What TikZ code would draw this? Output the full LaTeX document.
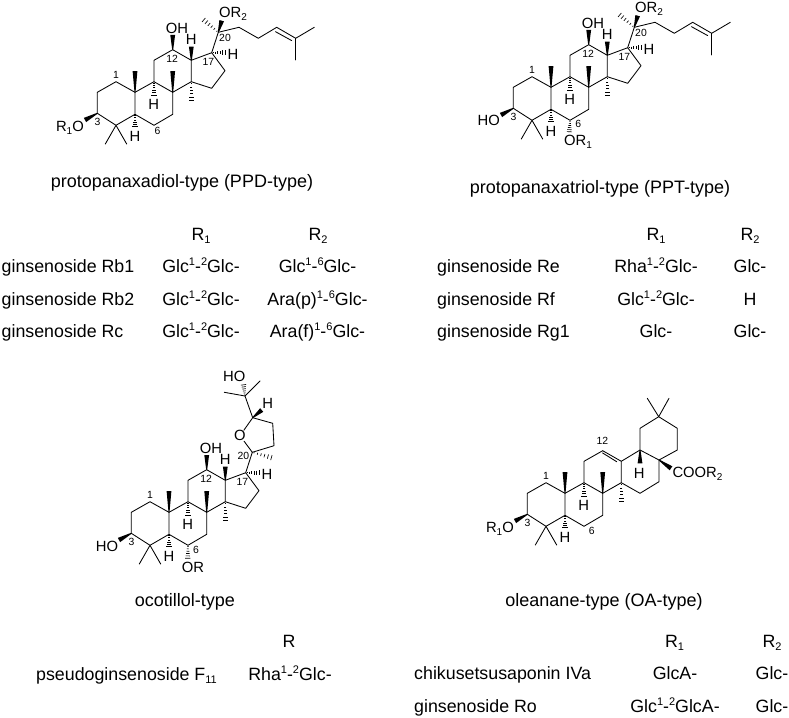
\documentclass[tikz,border=0pt]{standalone}
\usepackage{fontspec}
\setmainfont{Liberation Sans}
\usetikzlibrary{calc}

\tikzset{
  bond/.style={line width=.85pt,line join=round,line cap=round},
  atomlbl/.style={inner sep=0pt,font=\fontsize{14.8}{16}\selectfont},
  numlbl/.style={inner sep=0pt,font=\fontsize{10.4}{11}\selectfont},
  caplbl/.style={inner sep=0pt,anchor=base,font=\fontsize{18}{20}\selectfont},
  collbl/.style={inner sep=0pt,anchor=base,font=\fontsize{17.8}{20}\selectfont},
  rowlbl/.style={inner sep=0pt,anchor=base west,font=\fontsize{17.8}{20}\selectfont}
}
\newcommand{\up}[1]{\raisebox{6.6pt}{\fontsize{11}{11}\selectfont #1}}
\newcommand{\dn}[1]{\raisebox{-3.6pt}{\fontsize{11}{11}\selectfont #1}}
\newcommand{\adn}[1]{\raisebox{-3pt}{\fontsize{10}{10}\selectfont #1}}
\newcommand{\wedgebd}[2]{\fill ($(#1)!.5pt!90:(#2)$) -- ($(#1)!.5pt!-90:(#2)$) -- ($(#2)!2.4pt!90:(#1)$) -- ($(#2)!2.4pt!-90:(#1)$) -- cycle;}
\newcommand{\hashbd}[2]{%
  \foreach \pos/\hw in {.08/.6pt,.24/1pt,.40/1.4pt,.56/1.8pt,.72/2.2pt,.88/2.6pt} {
    \coordinate (hp) at ($(#1)!\pos!(#2)$);
    \draw[line width=.65pt] ($(hp)!\hw!90:(#2)$) -- ($(hp)!\hw!-90:(#2)$);
  }}
% rings A, B, C
\newcommand{\ringcore}{%
  \coordinate (C1) at (116,81.7);\coordinate (C2) at (97.3,92.3);\coordinate (C3) at (97.3,113.3);\coordinate (C4) at (116,125.3);\coordinate (C5) at (135,114.3);\coordinate (C6) at (154,125.3);\coordinate (C7) at (172.7,114.3);\coordinate (C8) at (172.7,92.3);\coordinate (C9) at (154,81.7);\coordinate (C10) at (135,92.3);\coordinate (C11) at (154,60.3);\coordinate (C12) at (172.7,49.7);\coordinate (C13) at (191.3,60.3);\coordinate (C14) at (191.3,81.7);
  \coordinate (Me4a) at (105.3,144);\coordinate (Me4b) at (126.7,144);\coordinate (Me8) at (172.7,71);\coordinate (Me10) at (135,71);\coordinate (Me14) at (191.3,103.3);\coordinate (O3) at (85,120);\coordinate (H5) at (135,128.3);\coordinate (H9) at (154,96.7);
  \draw[bond] (C10) -- (C1) -- (C2) -- (C3) -- (C4) -- (C5) -- (C10) -- (C9) -- (C8) -- (C7) -- (C6) -- (C5);
  \draw[bond] (C9) -- (C11) -- (C12);
  \draw[bond] (C8) -- (C14) -- (C13);
  \draw[bond] (Me4a) -- (C4) -- (Me4b);
  \foreach \from/\to in {C3/O3, C8/Me8, C10/Me10} { \wedgebd{\from}{\to} }
  \foreach \from/\to in {C5/H5, C9/H9, C14/Me14} { \hashbd{\from}{\to} }
  \node[atomlbl] (lblH5) at (135,136.7) {H};
  \node[atomlbl] (lblH9) at (153.7,104.3) {H};
  \node[numlbl] (no1) at (116,74.5) {1};
  \node[numlbl] (no3) at (97.5,122) {3};
}
% ring D and the C12 hydroxyl of the dammaranes
\newcommand{\dammarcore}{%
  \coordinate (C15) at (211.7,88.3);\coordinate (C16) at (225,70.7);\coordinate (C17) at (211.7,52.7);\coordinate (C20) at (218.3,32.3);\coordinate (O12) at (172.7,35);\coordinate (H13) at (191.3,46.7);\coordinate (H17) at (226.7,52.7);
  \draw[bond] (C12) -- (C13) -- (C17) -- (C16) -- (C15) -- (C14);
  \draw[bond] (C17) -- (C20);
  \foreach \from/\to in {C12/O12, C13/H13} { \wedgebd{\from}{\to} }
  \hashbd{C17}{H17}
  \node[atomlbl,anchor=base] (lblOH) at (177,33.5) {OH};
  \node[atomlbl] (lblH13) at (191.3,39.3) {H};
  \node[atomlbl] (lblH17) at (233,54.3) {H};
  \node[numlbl] (no12) at (172.2,59.3) {12};
  \node[numlbl] (no17) at (208.3,61.5) {17};
}
% side chain of PPD and PPT
\newcommand{\sidechain}{%
  \coordinate (C21) at (201.7,18.3);\coordinate (C22) at (239,27.3);\coordinate (C23) at (258.3,38.3);\coordinate (C24) at (276.7,27.3);\coordinate (C25) at (295.7,38.3);\coordinate (C26) at (314.3,27.3);\coordinate (C27) at (295.7,60);\coordinate (O20) at (221.7,20.7);\coordinate (D24) at (275.5,31.7);\coordinate (D25) at (291.7,40.6);
  \draw[bond] (C20) -- (C22) -- (C23) -- (C24) -- (C25) -- (C26);
  \draw[bond] (C25) -- (C27);
  \draw[bond] (D24) -- (D25);
  \wedgebd{C20}{O20}
  \hashbd{C20}{C21}
  \node[atomlbl,anchor=base west] (lblOR2) at (219,17.5) {OR\adn{2}};
  \node[numlbl] (no20) at (225,38.3) {20};
}

\begin{document}
\begin{tikzpicture}[x=1pt,y=-1pt]
  \useasboundingbox (0,0) rectangle (789,717);

  % protopanaxadiol
  \begin{scope}[name prefix=ppd-]
    \ringcore \dammarcore \sidechain
    \node[atomlbl,anchor=base east] (lblR1O) at (84,131) {R\adn{1}O};
    \node[numlbl] (no6) at (157.5,131) {6};
  \end{scope}

  % protopanaxatriol
  \begin{scope}[shift={(416,-5)},name prefix=ppt-]
    \ringcore \dammarcore \sidechain
    \coordinate (O6) at (153.3,138.3);
    \hashbd{C6}{O6}
    \node[atomlbl,anchor=base east] (lblHO) at (84,130) {HO};
    \node[atomlbl,anchor=base west] (lblOR1) at (148,150.7) {OR\adn{1}};
    \node[numlbl] (no6) at (162.3,129.3) {6};
  \end{scope}

  % ocotillol
  \begin{scope}[shift={(34,420)},name prefix=oco-]
    \ringcore \dammarcore
    \coordinate (O6) at (153.7,140);\coordinate (C21) at (240,38.3);\coordinate (C22) at (240,25.7);\coordinate (C23) at (238.7,3.3);\coordinate (C24) at (218.7,-2.3);\coordinate (H24) at (227.7,-10);\coordinate (C25) at (211,-24);\coordinate (C26) at (226,-39);\coordinate (C27) at (190.3,-27.7);\coordinate (O25) at (209.3,-36.7);
    \node[atomlbl] (lblO) at (206,15.7) {O};
    \draw[bond] (C20) -- (lblO) -- (C24);
    \draw[bond] (C20) -- (C22) -- (C23) -- (C24) -- (C25) -- (C26);
    \draw[bond] (C25) -- (C27);
    \wedgebd{C24}{H24}
    \hashbd{C6}{O6}
    \hashbd{C20}{C21}
    \hashbd{C25}{O25}
    \node[atomlbl] (lblH24) at (233.7,-16.7) {H};
    \node[atomlbl,anchor=base] (lblHO25) at (200.3,-38.3) {HO};
    \node[atomlbl,anchor=base east] (lblHO) at (84.3,131) {HO};
    \node[atomlbl,anchor=base west] (lblOR) at (147.7,152.7) {OR};
    \node[numlbl] (no6) at (162,130.3) {6};
    \node[numlbl] (no20) at (209.3,35.7) {20};
  \end{scope}

  % oleanane
  \begin{scope}[shift={(430,401)},name prefix=oa-]
    \ringcore
    \coordinate (C15) at (210,92.3);\coordinate (C16) at (229,80.7);\coordinate (C17) at (229,59);\coordinate (C18) at (210,49);\coordinate (C19) at (210,27.3);\coordinate (C20) at (228.7,15.7);\coordinate (C21) at (247.3,27.3);\coordinate (C22) at (247.3,49);\coordinate (Me20a) at (217.3,-2.7);\coordinate (Me20b) at (239,-2.7);\coordinate (H18) at (210,62.3);\coordinate (C28) at (241,67.3);\coordinate (D12) at (172.5,51.9);\coordinate (D13) at (186.7,60.7);
    \draw[bond] (C12) -- (C13) -- (C18) -- (C17) -- (C16) -- (C15) -- (C14);
    \draw[bond] (D12) -- (D13);
    \draw[bond] (C18) -- (C19) -- (C20) -- (C21) -- (C22) -- (C17);
    \draw[bond] (Me20a) -- (C20) -- (Me20b);
    \foreach \from/\to in {C18/H18, C17/C28} { \wedgebd{\from}{\to} }
    \node[atomlbl] (lblH18) at (209.3,72.3) {H};
    \node[atomlbl,anchor=base west] (lblCOOR) at (242.3,76.3) {COOR\adn{2}};
    \node[atomlbl,anchor=base east] (lblR1O) at (84,131) {R\adn{1}O};
    \node[numlbl] (no6) at (161.7,130) {6};
    \node[numlbl] (no12) at (172.3,39.7) {12};
  \end{scope}

  % captions
  \node[caplbl] (capPPD) at (182,187) {protopanaxadiol-type (PPD-type)};
  \node[caplbl] (capPPT) at (600,193) {protopanaxatriol-type (PPT-type)};
  \node[caplbl] (capOCO) at (185,606) {ocotillol-type};
  \node[caplbl] (capOA) at (604,606) {oleanane-type (OA-type)};

  % table of PPD
  \node[collbl] (ppdR1) at (201,240) {R\dn{1}};
  \node[collbl] (ppdR2) at (318,240) {R\dn{2}};
  \foreach \rowy/\gname/\rtwo in {272/Rb1/Glc\up{1}-\up{6}Glc-, 305/Rb2/Ara(p)\up{1}-\up{6}Glc-, 337/Rc/Ara(f)\up{1}-\up{6}Glc-} {
    \node[rowlbl] at (1.5,\rowy) {ginsenoside \gname};
    \node[collbl] at (201,\rowy) {Glc\up{1}-\up{2}Glc-};
    \node[collbl] at (317.5,\rowy) {\rtwo};
  }

  % table of PPT
  \node[collbl] (pptR1) at (656,240) {R\dn{1}};
  \node[collbl] (pptR2) at (750,240) {R\dn{2}};
  \foreach \rowy/\gname/\rone/\rtwo in {272/Re/Rha\up{1}-\up{2}Glc-/Glc-, 305/Rf/Glc\up{1}-\up{2}Glc-/H, 337/Rg1/Glc-/Glc-} {
    \node[rowlbl] at (437,\rowy) {ginsenoside \gname};
    \node[collbl] at (656,\rowy) {\rone};
    \node[collbl] at (750,\rowy) {\rtwo};
  }

  % table of ocotillol
  \node[collbl] (ocoR) at (289,647) {R};
  \node[rowlbl] (ocoF11) at (36,680) {pseudoginsenoside F\dn{11}};
  \node[collbl] (ocoRha) at (290,680) {Rha\up{1}-\up{2}Glc-};

  % table of oleanane
  \node[collbl] (oaR1) at (674.5,647) {R\dn{1}};
  \node[collbl] (oaR2) at (772,647) {R\dn{2}};
  \node[rowlbl] (oaIVa) at (414,679) {chikusetsusaponin IVa};
  \node[collbl] (oaIVa1) at (675,679) {GlcA-};
  \node[collbl] (oaIVa2) at (772,679) {Glc-};
  \node[rowlbl] (oaRo) at (414,712) {ginsenoside Ro};
  \node[collbl] (oaRo1) at (675,712) {Glc\up{1}-\up{2}GlcA-};
  \node[collbl] (oaRo2) at (772,712) {Glc-};
\end{tikzpicture}
\end{document}
